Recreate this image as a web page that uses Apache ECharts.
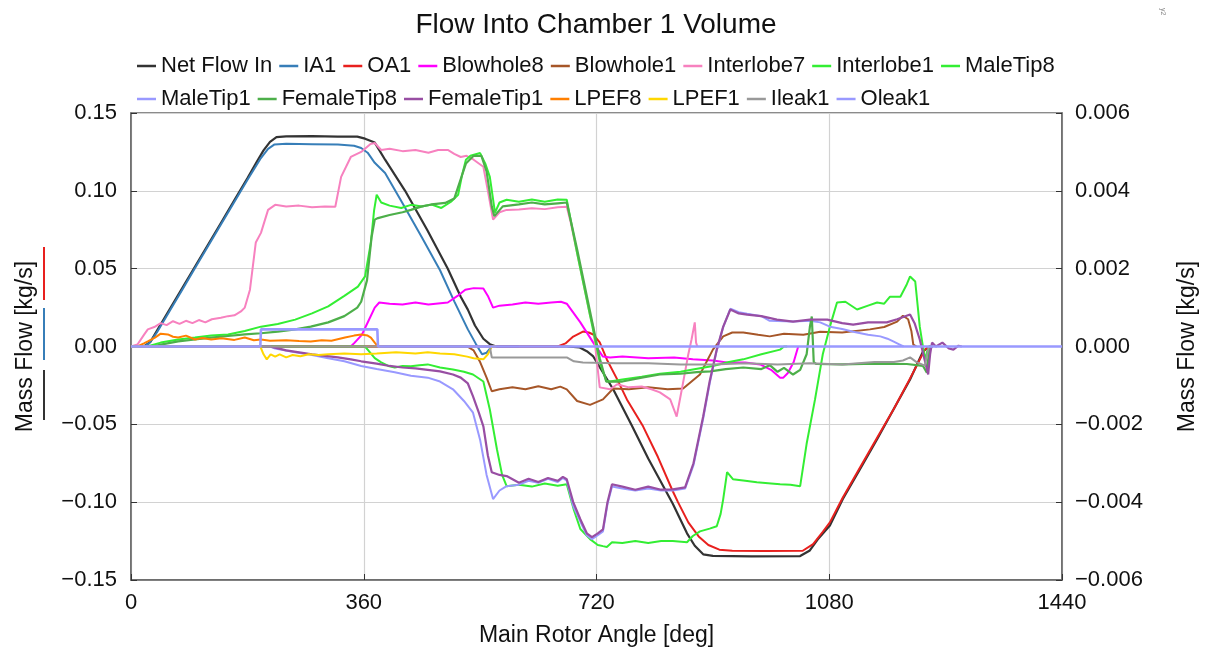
<!DOCTYPE html>
<html><head><meta charset="utf-8">
<script src="https://cdn.jsdelivr.net/npm/echarts@6/dist/echarts.min.js"></script>
<style>html,body{margin:0;padding:0;background:#fff}#c{width:1208px;height:652px}</style>
</head><body><div id="c"></div>
<script>
// ---- data: [angle deg, mass flow kg/s] ----
const xTicks = [0, 360, 720, 1080, 1440];
const seriesNames = ['Net Flow In','IA1','OA1','Blowhole8','Blowhole1','Interlobe7','Interlobe1','MaleTip8','MaleTip1','FemaleTip8','FemaleTip1','LPEF8','LPEF1','Ileak1','Oleak1'];

// left axis series
const netFlowIn = [[0,0],[20,0],[30,0.003],[40,0.010],[60,0.024],[80,0.038],[100,0.052],[120,0.066],[140,0.080],[160,0.094],[180,0.108],[195,0.119],[205,0.126],[215,0.1315],[225,0.1345],[240,0.135],[280,0.1352],[320,0.1348],[350,0.1348],[362,0.1335],[377,0.131],[393,0.120],[424,0.100],[458,0.075],[490,0.050],[510,0.032],[521,0.0237],[532,0.0135],[545,0.005],[555,0.0015],[565,0],[674,0],[694,-0.0006],[705,-0.003],[715,-0.0064],[730,-0.0167],[746,-0.0276],[775,-0.051],[800,-0.072],[838,-0.101],[860,-0.120],[872,-0.128],[885,-0.1335],[900,-0.1345],[960,-0.1348],[1035,-0.1346],[1050,-0.131],[1062,-0.124],[1081,-0.115],[1101,-0.098],[1130,-0.077],[1154,-0.0596],[1180,-0.040],[1205,-0.0212],[1225,-0.0032],[1235,0],[1240,0]];
const ia1 = [[0,0],[20,0],[28,0.002],[40,0.009],[60,0.023],[80,0.037],[100,0.051],[120,0.065],[140,0.079],[160,0.093],[180,0.107],[200,0.1205],[212,0.127],[222,0.1298],[240,0.1302],[280,0.1300],[320,0.1298],[345,0.1290],[356,0.1275],[366,0.1245],[377,0.118],[393,0.1115],[420,0.092],[450,0.070],[478,0.049],[500,0.029],[521,0.011],[533,0.002],[543,-0.005],[550,-0.004],[558,0],[600,0]];
const oa1 = [[0,0],[660,0],[672,0.002],[684,0.0064],[699,0.0096],[708,0.009],[715,0.0077],[725,0.0026],[736,-0.0083],[752,-0.0211],[767,-0.034],[792,-0.0513],[815,-0.071],[838,-0.093],[846,-0.100],[862,-0.113],[878,-0.122],[893,-0.1275],[910,-0.1305],[930,-0.1312],[980,-0.1314],[1039,-0.1312],[1055,-0.127],[1070,-0.119],[1081,-0.113],[1101,-0.097],[1130,-0.076],[1154,-0.0586],[1180,-0.040],[1205,-0.0205],[1228,-0.002],[1235,0],[1240,0]];

// right axis series
const blowhole8 = [[0,0],[340,0],[346,0.0001],[357,0.0003],[367,0.00065],[377,0.001],[384,0.00113],[400,0.0011],[420,0.00108],[440,0.00113],[460,0.00108],[490,0.00113],[505,0.0013],[517,0.00146],[530,0.0015],[545,0.00149],[552,0.0013],[560,0.001],[570,0.00105],[590,0.00108],[610,0.00113],[630,0.0011],[650,0.00113],[665,0.00115],[674,0.0011],[695,0.00062],[715,0.0001],[730,-0.00026],[741,-0.00028],[760,-0.00026],[800,-0.0003],[840,-0.00028],[869,-0.00033],[900,-0.00036],[922,-0.00041],[950,-0.00041],[973,-0.00046],[990,-0.0006],[1004,-0.0008],[1009,-0.0008],[1016,-0.00068],[1025,-0.0004],[1032,0]];
const blowhole1 = [[0,0],[520,0],[530,-0.0001],[540,-0.0004],[550,-0.0008],[558,-0.00115],[570,-0.0011],[590,-0.00105],[610,-0.0011],[630,-0.00102],[650,-0.0011],[664,-0.00103],[674,-0.0011],[690,-0.0014],[710,-0.0015],[730,-0.00136],[746,-0.00108],[770,-0.0011],[800,-0.00105],[830,-0.0011],[854,-0.00108],[880,-0.00072],[900,-0.00008],[916,0.00026],[930,0.00036],[947,0.00036],[970,0.0003],[988,0.00026],[1010,0.00033],[1040,0.0003],[1066,0.00038],[1100,0.00036],[1143,0.00044],[1165,0.0005],[1185,0.00064],[1194,0.00079],[1202,0.0007],[1207,0.0004],[1210,0.00005],[1215,0]];
const interlobe7 = [[0,0],[10,0.00005],[20,0.0003],[26,0.00044],[36,0.0005],[46,0.0006],[55,0.00055],[65,0.00065],[75,0.00058],[85,0.00066],[95,0.0006],[105,0.00068],[115,0.00062],[125,0.0007],[139,0.00074],[150,0.00078],[160,0.0008],[170,0.0009],[176,0.001],[184,0.00146],[193,0.00267],[201,0.00292],[212,0.00351],[223,0.00364],[240,0.0036],[260,0.00362],[280,0.00358],[300,0.0036],[316,0.00359],[325,0.00436],[340,0.00487],[356,0.005],[370,0.0052],[377,0.00523],[387,0.00505],[400,0.00508],[420,0.00502],[440,0.00505],[460,0.00498],[475,0.00505],[490,0.00505],[500,0.00495],[510,0.00487],[519,0.0049],[530,0.0048],[545,0.00462],[552,0.004],[560,0.00326],[570,0.00345],[581,0.00351],[600,0.00352],[620,0.00355],[640,0.00353],[660,0.00358],[674,0.00359],[680,0.0032],[695,0.002],[710,0.0008],[715,0.0005],[720,-0.0003],[725,-0.00105],[741,-0.0011],[752,-0.00097],[770,-0.00105],[790,-0.00103],[805,-0.0011],[818,-0.00118],[834,-0.00136],[844,-0.0018],[852,-0.0011],[862,-0.0002],[867,0.00018],[872,0.00062],[874,0.0001],[876,0]];
const interlobe1 = [[0,0],[25,0],[46,0.0001],[73,0.00018],[99,0.00023],[124,0.00028],[150,0.00031],[176,0.0004],[201,0.00051],[227,0.00058],[254,0.00069],[280,0.00085],[305,0.00103],[330,0.0013],[351,0.00154],[362,0.0018],[371,0.00267],[376,0.0035],[380,0.0039],[387,0.0037],[400,0.00362],[418,0.00356],[433,0.00364],[450,0.0036],[465,0.00365],[480,0.00356],[495,0.00372],[506,0.0039],[512,0.0044],[518,0.0048],[525,0.0049],[540,0.00497],[548,0.0047],[555,0.00436],[563,0.00344],[570,0.0037],[581,0.00377],[600,0.00372],[620,0.00378],[640,0.00372],[660,0.00378],[674,0.00377],[690,0.0024],[710,0.0008],[725,-0.0004],[735,-0.00088],[741,-0.0009],[760,-0.00085],[790,-0.00078],[818,-0.0007],[850,-0.00065],[869,-0.00059],[900,-0.0005],[925,-0.0004],[947,-0.00033],[975,-0.0002],[1004,-0.00008],[1010,0],[1015,0]];
const maleTip8 = [[0,0],[362,0],[367,-0.0001],[377,-0.0003],[387,-0.00041],[398,-0.0005],[408,-0.00054],[420,-0.0005],[433,-0.00051],[446,-0.00048],[459,-0.00046],[478,-0.00054],[498,-0.00059],[515,-0.00065],[529,-0.00072],[545,-0.0009],[555,-0.00162],[566,-0.00264],[574,-0.0033],[581,-0.00359],[600,-0.00355],[620,-0.0036],[640,-0.00352],[660,-0.00358],[674,-0.00354],[685,-0.0042],[695,-0.00469],[710,-0.00495],[722,-0.0051],[730,-0.00513],[736,-0.00515],[744,-0.00503],[760,-0.00505],[780,-0.005],[800,-0.00505],[820,-0.005],[838,-0.005],[860,-0.00503],[869,-0.00487],[880,-0.00475],[895,-0.00468],[906,-0.00462],[912,-0.0043],[916,-0.00392],[922,-0.00323],[931,-0.00341],[950,-0.00345],[968,-0.00349],[990,-0.00352],[1004,-0.00354],[1020,-0.00355],[1035,-0.00359],[1045,-0.0025],[1058,-0.00136],[1070,-0.0002],[1081,0.00051],[1092,0.00113],[1105,0.00115],[1123,0.00095],[1140,0.00105],[1154,0.00113],[1165,0.0011],[1174,0.00128],[1190,0.00128],[1200,0.0016],[1205,0.0018],[1213,0.00167],[1220,0.00051],[1228,-0.00033],[1232,-0.0001],[1236,0]];
const maleTip1 = [[0,0],[215,0],[223,-0.00005],[254,-0.00015],[280,-0.00022],[305,-0.0003],[330,-0.00038],[356,-0.0005],[380,-0.00058],[408,-0.00066],[433,-0.00075],[459,-0.0008],[478,-0.0009],[498,-0.0011],[515,-0.0014],[529,-0.0017],[540,-0.0024],[550,-0.0033],[560,-0.00392],[570,-0.0037],[581,-0.00359],[600,-0.00355],[615,-0.00345],[630,-0.0035],[645,-0.0034],[660,-0.00348],[668,-0.00338],[674,-0.00345],[684,-0.0041],[695,-0.0045],[705,-0.00485],[713,-0.00495],[722,-0.00485],[730,-0.00475],[737,-0.00405],[744,-0.0036],[760,-0.00365],[780,-0.0037],[800,-0.00365],[820,-0.0037],[838,-0.0037],[857,-0.00365],[870,-0.00305],[885,-0.00185],[895,-0.00095],[906,-0.0001],[916,0.0005],[927,0.00097],[940,0.00088],[953,0.00084],[975,0.00078],[988,0.00066],[1024,0.00064],[1050,0.00066],[1066,0.00062],[1081,0.00051],[1100,0.00045],[1117,0.00038],[1140,0.0003],[1159,0.00026],[1170,0.0002],[1179,0.00013],[1189,0.00005],[1195,0]];
const femaleTip8 = [[0,0],[35,0],[46,0.00005],[73,0.00013],[99,0.00018],[124,0.00023],[150,0.00027],[176,0.00031],[201,0.00034],[227,0.00038],[254,0.00044],[278,0.00051],[305,0.00062],[330,0.00078],[350,0.001],[356,0.00115],[365,0.0017],[372,0.0028],[377,0.00326],[382,0.0033],[400,0.00338],[420,0.00345],[433,0.00351],[450,0.0036],[465,0.00365],[486,0.00369],[500,0.0038],[510,0.0043],[518,0.0047],[530,0.0049],[542,0.0049],[550,0.0045],[558,0.0036],[562,0.00335],[575,0.0036],[600,0.00365],[620,0.0037],[640,0.00365],[660,0.00368],[674,0.0037],[690,0.0025],[710,0.0009],[725,-0.0003],[735,-0.0009],[760,-0.0009],[790,-0.0008],[818,-0.00072],[850,-0.0007],[875,-0.00066],[896,-0.00064],[920,-0.00058],[947,-0.00054],[975,-0.00058],[988,-0.00048],[1000,-0.00065],[1010,-0.00055],[1024,-0.00072],[1035,-0.0006],[1045,-0.0002],[1050,0.0005],[1053,0.00077],[1056,-0.0004],[1060,-0.00045],[1100,-0.00046],[1150,-0.00044],[1200,-0.00045],[1225,-0.0005],[1231,-0.00067],[1235,0],[1240,0]];
const femaleTip1 = [[0,0],[215,0],[223,-0.00003],[240,-0.0001],[260,-0.00015],[280,-0.0002],[300,-0.00024],[320,-0.00028],[340,-0.00033],[356,-0.00038],[380,-0.00044],[400,-0.0005],[420,-0.00054],[440,-0.00056],[459,-0.0006],[478,-0.00064],[498,-0.00072],[510,-0.0008],[521,-0.00095],[529,-0.00128],[538,-0.0017],[545,-0.00205],[552,-0.0028],[558,-0.00323],[570,-0.0033],[581,-0.00333],[600,-0.0035],[615,-0.0034],[630,-0.00348],[645,-0.00338],[660,-0.00345],[668,-0.00335],[674,-0.00341],[684,-0.004],[695,-0.00444],[705,-0.0048],[713,-0.0049],[722,-0.0048],[730,-0.0047],[737,-0.004],[744,-0.00354],[760,-0.0036],[780,-0.00368],[800,-0.0036],[820,-0.00368],[838,-0.00367],[857,-0.00362],[870,-0.003],[885,-0.0018],[895,-0.0009],[906,-0.00008],[916,0.00051],[927,0.00095],[940,0.00085],[953,0.00082],[975,0.00078],[999,0.00069],[1024,0.00064],[1050,0.00069],[1077,0.00069],[1100,0.0006],[1117,0.00056],[1140,0.00062],[1169,0.00062],[1185,0.0007],[1205,0.00082],[1212,0.0006],[1220,0.00018],[1233,-0.00072],[1236,-0.0002],[1239,0.0001],[1245,0],[1255,0.0001],[1265,-0.00005],[1272,-0.00008],[1280,0.00002],[1285,0]];
const lpef8 = [[0,0],[10,0],[20,0.00008],[26,0.00013],[37,0.00023],[46,0.00033],[57,0.00031],[65,0.00025],[73,0.00023],[85,0.00028],[99,0.00018],[110,0.00022],[124,0.00018],[140,0.00021],[160,0.00017],[176,0.00023],[190,0.00016],[201,0.00018],[215,0.00015],[240,0.00016],[260,0.00014],[278,0.00013],[295,0.00016],[310,0.00015],[331,0.00023],[345,0.00028],[356,0.00031],[366,0.00028],[371,0.00023],[377,0.0001],[382,0],[390,0]];
const lpef1 = [[0,0],[200,0],[205,-0.0002],[210,-0.00033],[216,-0.0002],[223,-0.00026],[230,-0.0002],[240,-0.00028],[250,-0.00022],[262,-0.00025],[275,-0.0002],[290,-0.00022],[305,-0.0002],[330,-0.00018],[356,-0.0002],[380,-0.00018],[410,-0.00015],[440,-0.00018],[459,-0.00015],[478,-0.00018],[500,-0.0002],[520,-0.00026],[530,-0.0003],[545,-0.00033],[552,-0.0002],[558,0],[565,0]];
const ileak1 = [[0,0],[555,0],[558,-0.00028],[600,-0.00028],[650,-0.00028],[674,-0.00028],[685,-0.00038],[699,-0.00041],[750,-0.00043],[800,-0.00043],[850,-0.00046],[900,-0.00046],[950,-0.00043],[1000,-0.00046],[1050,-0.00043],[1100,-0.00046],[1150,-0.0004],[1180,-0.0004],[1194,-0.00036],[1205,-0.00028],[1215,-0.0004],[1228,-0.00049],[1231,-0.00051],[1234,0],[1240,0]];
const oleak1 = [[0,0],[200,0],[201,0.00044],[381,0.00044],[382,0],[1440,0]];

const seriesData = [netFlowIn, ia1, oa1, blowhole8, blowhole1, interlobe7, interlobe1, maleTip8, maleTip1, femaleTip8, femaleTip1, lpef8, lpef1, ileak1, oleak1];
const axisIndex = [0,0,0,1,1,1,1,1,1,1,1,1,1,1,1];
const colors = ['#333333','#377eb8','#e8201e','#ff00ff','#a65628','#f781bf','#33ee33','#33ee33','#9999ff','#4daf4a','#984ea3','#ff7f00','#ffd700','#999999','#9999ff'];
const widths = [2.2,2,2,2,2,2,2,2,2,2.2,2.2,2,2,2,2.6];

const FONT = '"Liberation Sans", Arial, sans-serif';
const fmt = d => v => (v < -1e-12 ? '\u2212' : '') + Math.abs(v).toFixed(d);

const chart = echarts.init(document.getElementById('c'), null, {renderer: 'canvas'});
chart.setOption({
  animation: false,
  backgroundColor: '#fff',
  textStyle: {fontFamily: FONT},
  title: {
    text: 'Flow Into Chamber 1 Volume', left: 596, top: 11, textAlign: 'center', padding: 0,
    textStyle: {fontFamily: FONT, fontSize: 28, fontWeight: 'normal', color: '#111'}
  },
  legend: {
    left: 137, top: 53, width: 960, padding: 0, itemGap: 7, itemWidth: 19, itemHeight: 2.5,
    icon: 'rect',
    textStyle: {fontFamily: FONT, fontSize: 22, color: '#111', lineHeight: 26},
    data: seriesNames
  },
  grid: {left: 131, right: 146, top: 113, bottom: 71, show: true, borderColor: '#666', borderWidth: 1.5, containLabel: false},
  xAxis: {
    type: 'value', min: 0, max: 1440, interval: 360,
    name: 'Main Rotor Angle [deg]', nameLocation: 'middle', nameGap: 44,
    nameTextStyle: {fontFamily: FONT, fontSize: 23, color: '#111'},
    axisLine: {show: true, onZero: false, lineStyle: {color: '#666', width: 1.5}},
    axisTick: {show: true, inside: true, length: 6, lineStyle: {color: '#333'}},
    axisLabel: {fontFamily: FONT, fontSize: 22, color: '#111', margin: 12, formatter: v => String(v)},
    splitLine: {show: true, lineStyle: {color: '#d2d2d2', width: 1.2}}
  },
  yAxis: [{
    type: 'value', min: -0.15, max: 0.15, interval: 0.05, position: 'left',
    name: 'Mass Flow [kg/s]', nameLocation: 'middle', nameGap: 94, nameRotate: 90,
    nameTextStyle: {fontFamily: FONT, fontSize: 23, color: '#111'},
    axisLine: {show: true, onZero: false, lineStyle: {color: '#666', width: 1.5}},
    axisTick: {show: true, inside: true, length: 6, lineStyle: {color: '#333'}},
    axisLabel: {fontFamily: FONT, fontSize: 22, color: '#111', margin: 14, formatter: fmt(2)},
    splitLine: {show: true, lineStyle: {color: '#d2d2d2', width: 1.2}}
  }, {
    type: 'value', min: -0.006, max: 0.006, interval: 0.002, position: 'right',
    name: 'Mass Flow [kg/s]', nameLocation: 'middle', nameGap: 114, nameRotate: 90,
    nameTextStyle: {fontFamily: FONT, fontSize: 23, color: '#111'},
    axisLine: {show: true, onZero: false, lineStyle: {color: '#666', width: 1.5}},
    axisTick: {show: true, inside: true, length: 6, lineStyle: {color: '#333'}},
    axisLabel: {fontFamily: FONT, fontSize: 22, color: '#111', margin: 13, formatter: fmt(3)},
    splitLine: {show: false}
  }],
  graphic: [
    {type: 'line', shape: {x1: 44, y1: 247, x2: 44, y2: 300}, style: {stroke: '#e8201e', lineWidth: 2}},
    {type: 'line', shape: {x1: 44, y1: 308, x2: 44, y2: 360}, style: {stroke: '#377eb8', lineWidth: 2}},
    {type: 'line', shape: {x1: 44, y1: 370, x2: 44, y2: 420}, style: {stroke: '#333333', lineWidth: 2}},
    {type: 'text', x: 1166, y: 8, rotation: -Math.PI / 2, style: {text: 'y2', fontSize: 7, fill: '#888', fontFamily: FONT}}
  ],
  series: seriesNames.map((n, i) => ({
    name: n, type: 'line', yAxisIndex: axisIndex[i], data: seriesData[i],
    symbol: 'none', smooth: false, clip: true,
    lineStyle: {color: colors[i], width: widths[i]},
    itemStyle: {color: colors[i]},
    emphasis: {disabled: true}
  }))
});
</script></body></html>
